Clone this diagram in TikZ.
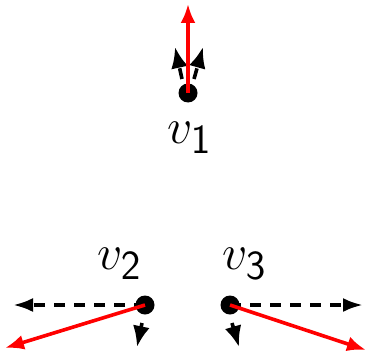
\documentclass[tikz,border=0pt]{standalone}
\usepackage{amsmath}
\usepackage{tikz}
\usetikzlibrary{positioning,arrows.meta}

\begin{document}
\begin{tikzpicture}[x=0.5pt, y=-0.5pt,
  vert/.style={circle, fill=black, inner sep=0pt, minimum size=9.5pt},
  lab/.style={anchor=base west, inner sep=0pt, font=\fontsize{30}{32}\selectfont},
  red/.style={draw=red, line width=1.8pt, -{Latex[length=9.5pt, width=7.5pt]}},
  dsh/.style={draw=black, line width=1.8pt, dash pattern=on 5.5pt off 4.5pt, -{Latex[length=10pt, width=7pt]}},
  sdsh/.style={dsh, -{Latex[length=10.5pt, width=8.5pt]}}]
\useasboundingbox (0,0) rectangle (368,353);
% vertices
\node[vert] (v1) at (188,93)  {};
\node[vert] (v2) at (145,305) {};
\node[vert] (v3) at (230,305) {};
\node[lab] (l1) at (167,143) {$v_{\mathsf{1}}$};
\node[lab] (l2) at (97,269)  {$v_{\mathsf{2}}$};
\node[lab] (l3) at (222,269) {$v_{\mathsf{3}}$};
% arrow ends
\coordinate (a1) at (188,4);
\coordinate (b1) at (175,47);
\coordinate (c1) at (203,47);
\coordinate (a2) at (5,348);
\coordinate (b2) at (13,305);
\coordinate (c2) at (137,347);
\coordinate (a3) at (366,350);
\coordinate (b3) at (363,305);
\coordinate (c3) at (239,347);
% v1
\draw[sdsh] (v1.center) ++(-6,-14) -- (b1);
\draw[sdsh] (v1.center) ++(6,-14) -- (c1);
\draw[red] (v1.center) -- (a1);
% v2
\draw[dsh] (v2.center) -- (b2);
\draw[sdsh] (v2.center) ++(-3,18) -- (c2);
\draw[red] (v2.center) -- (a2);
% v3
\draw[dsh] (v3.center) -- (b3);
\draw[sdsh] (v3.center) ++(2,18) -- (c3);
\draw[red] (v3.center) -- (a3);
\end{tikzpicture}
\end{document}
